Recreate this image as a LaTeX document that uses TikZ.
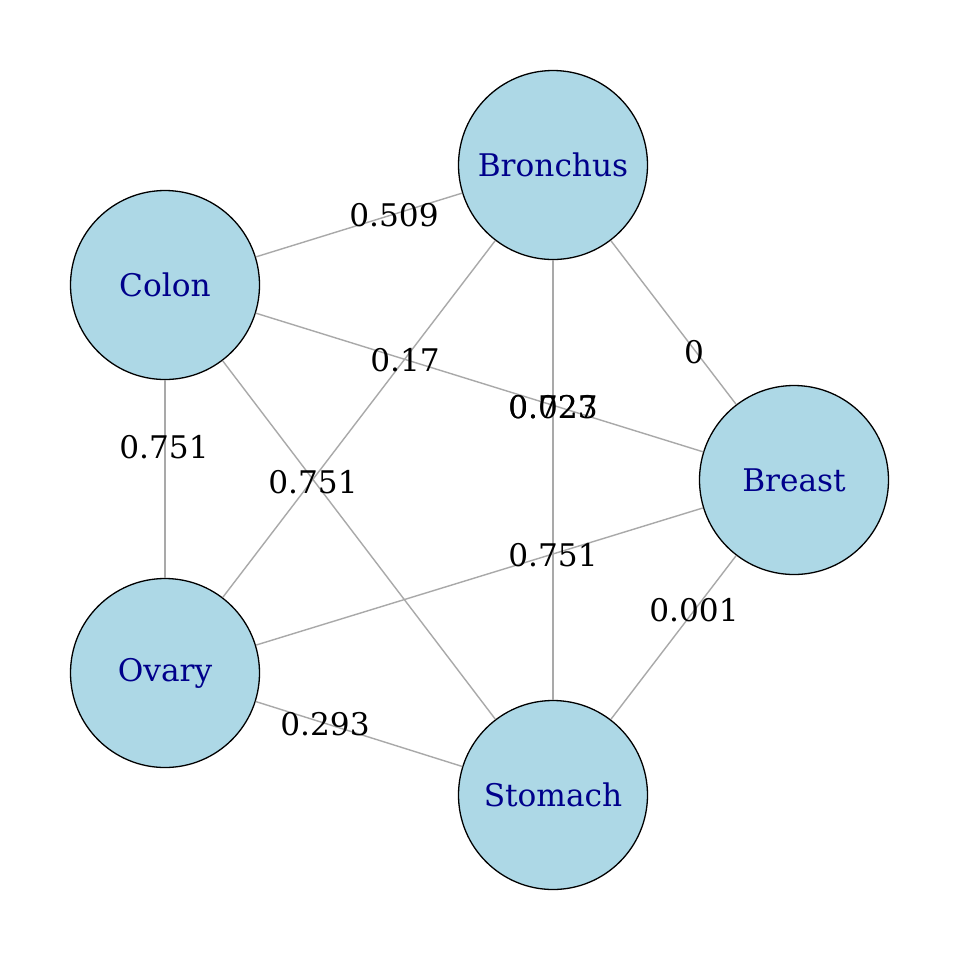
\documentclass[tikz,border=0pt]{standalone}
\usepackage{fontspec}
\setmainfont{DejaVu Serif}
\usetikzlibrary{positioning}
\definecolor{nodefill}{HTML}{ADD8E6}
\definecolor{nodetext}{HTML}{00008B}
\definecolor{edgegray}{HTML}{A9A9A9}

\begin{document}
\begin{tikzpicture}[
  x=0.5pt, y=-0.5pt,
  site/.style={circle, draw=black, line width=0.65pt, fill=nodefill,
    minimum size=94.5pt, inner sep=0pt, text=nodetext,
    font=\fontsize{15.6}{18}\selectfont},
  link/.style={draw=edgegray, line width=0.7pt},
  weight/.style={inner sep=0pt, font=\fontsize{15.6}{18}\selectfont}
]
\useasboundingbox[fill=white] (0,0) rectangle (960,960);

% nodes
\node[site] (bronchus) at (553,165) {Bronchus};
\node[site] (colon)    at (165,285) {Colon};
\node[site] (breast)   at (794,480) {Breast};
\node[site] (ovary)    at (165,673) {Ovary};
\node[site] (stomach)  at (553,795) {Stomach};

% edges
\path[link] (bronchus) -- (colon);
\path[link] (bronchus) -- (breast);
\path[link] (bronchus) -- (ovary);
\path[link] (bronchus) -- (stomach);
\path[link] (colon) -- (breast);
\path[link] (colon) -- (ovary);
\path[link] (colon) -- (stomach);
\path[link] (breast) -- (ovary);
\path[link] (breast) -- (stomach);
\path[link] (ovary) -- (stomach);

% weights
\node[weight] (w-bc) at (394,215) {0.509};
\node[weight] (w-bb) at (694,352) {0};
\node[weight] (w-bo) at (405,360) {0.17};
\node[weight] (w-bs) at (553,407) {0.723};
\node[weight] (w-cb) at (553,407) {0.027};
\node[weight] (w-co) at (164,447) {0.751};
\node[weight] (w-cs) at (313,482) {0.751};
\node[weight] (w-bro) at (553,555) {0.751};
\node[weight] (w-brs) at (694,610) {0.001};
\node[weight] (w-os) at (325,724) {0.293};

\end{tikzpicture}
\end{document}
